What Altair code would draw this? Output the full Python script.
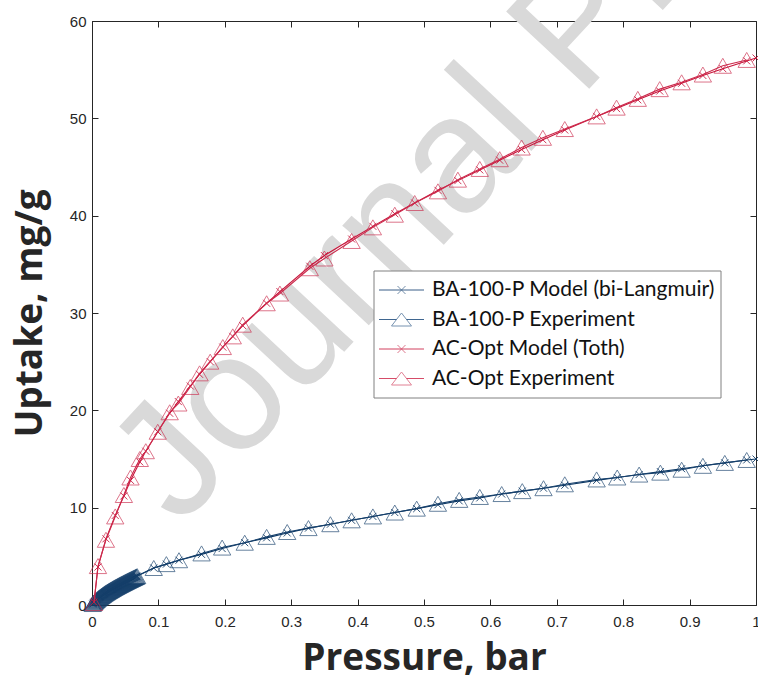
import altair as alt
import pandas as pd

# ---------------- data ----------------
series_names = [
    "BA-100-P Model (bi-Langmuir)",
    "BA-100-P Experiment",
    "AC-Opt Model (Toth)",
    "AC-Opt Experiment",
]
series_colors = ["#0b3763", "#153f6b", "#c8143a", "#cc2a4c"]
legend_colors = ["#3a5f88", "#3f6690", "#d2405e", "#d64c68"]
series_kind = ["model", "exp", "model", "exp"]

# dense low-pressure band of BA-100-P
ba_low_p = [0.001, 0.002, 0.003, 0.004, 0.005, 0.006, 0.007, 0.008, 0.009, 0.010,
            0.011, 0.012, 0.013, 0.014, 0.015, 0.016, 0.017, 0.018, 0.019, 0.020,
            0.021, 0.022, 0.023, 0.024, 0.025, 0.026, 0.027, 0.028, 0.029, 0.030,
            0.031, 0.032, 0.033, 0.034, 0.035, 0.036, 0.037, 0.038, 0.039, 0.040,
            0.041, 0.042, 0.043, 0.044, 0.045, 0.046, 0.047, 0.048, 0.049, 0.050,
            0.051, 0.052, 0.053, 0.054, 0.055, 0.056, 0.057, 0.058, 0.059, 0.060,
            0.061, 0.062, 0.063, 0.064, 0.065, 0.066, 0.067, 0.068]
ba_low_q = [0.10, 0.18, 0.26, 0.33, 0.40, 0.47, 0.53, 0.59, 0.65, 0.71,
            0.77, 0.82, 0.87, 0.92, 0.97, 1.02, 1.07, 1.12, 1.17, 1.22,
            1.26, 1.30, 1.35, 1.39, 1.43, 1.47, 1.51, 1.55, 1.59, 1.63,
            1.67, 1.71, 1.75, 1.79, 1.83, 1.86, 1.90, 1.94, 1.97, 2.01,
            2.05, 2.08, 2.12, 2.15, 2.19, 2.22, 2.26, 2.29, 2.33, 2.36,
            2.40, 2.43, 2.47, 2.50, 2.53, 2.57, 2.60, 2.63, 2.67, 2.70,
            2.73, 2.77, 2.80, 2.83, 2.87, 2.90, 2.93, 2.97]

ba_exp_p = ba_low_p + [
    0.093, 0.112, 0.131, 0.165, 0.196, 0.230, 0.263, 0.294, 0.326, 0.359,
    0.391, 0.423, 0.456, 0.489, 0.521, 0.553, 0.584, 0.617, 0.648, 0.680,
    0.712, 0.760, 0.791, 0.824, 0.856, 0.888, 0.920, 0.953, 0.986]
ba_exp_q = ba_low_q + [
    3.8, 4.2, 4.6, 5.3, 5.9, 6.4, 7.0, 7.5, 7.9, 8.3,
    8.7, 9.1, 9.5, 9.9, 10.4, 10.8, 11.1, 11.4, 11.7, 12.0,
    12.4, 12.9, 13.1, 13.4, 13.6, 13.9, 14.3, 14.6, 14.9]

ba_mod_p = ba_exp_p + [1.0]
ba_mod_q = ba_low_q + [
    3.8, 4.2, 4.6, 5.2, 5.8, 6.4, 6.9, 7.4, 7.9, 8.3,
    8.7, 9.1, 9.5, 9.9, 10.3, 10.7, 11.0, 11.4, 11.7, 12.0,
    12.3, 12.8, 13.1, 13.4, 13.7, 14.0, 14.3, 14.6, 14.9, 15.0]

ac_exp_p = [0.003, 0.009, 0.021, 0.035, 0.048, 0.058, 0.072, 0.081, 0.099, 0.117,
            0.130, 0.148, 0.162, 0.178, 0.197, 0.212, 0.227, 0.263, 0.283, 0.328,
            0.350, 0.391, 0.423, 0.456, 0.486, 0.521, 0.551, 0.584, 0.614, 0.647,
            0.679, 0.712, 0.760, 0.790, 0.822, 0.855, 0.888, 0.920, 0.950, 0.986]
ac_exp_q = [0.2, 4.0, 6.7, 9.1, 11.3, 13.1, 15.0, 15.8, 17.8, 19.8,
            20.7, 22.4, 23.8, 25.0, 26.5, 27.6, 28.8, 31.0, 32.0, 34.6,
            35.6, 37.4, 38.8, 40.1, 41.3, 42.5, 43.7, 44.8, 45.8, 47.0,
            48.0, 48.9, 50.2, 51.1, 52.0, 53.0, 53.7, 54.5, 55.4, 56.0]

ac_mod_p = ac_exp_p + [1.0]
ac_mod_q = [0.3, 3.9, 6.8, 9.2, 11.2, 12.8, 14.7, 15.8, 17.8, 19.7,
            20.9, 22.5, 23.7, 25.0, 26.5, 27.6, 28.7, 31.0, 32.2, 34.8,
            35.9, 37.6, 38.9, 40.2, 41.3, 42.6, 43.6, 44.7, 45.7, 46.8,
            47.8, 48.8, 50.2, 51.0, 51.9, 52.8, 53.6, 54.4, 55.1, 55.9, 56.2]

x_ticks = [0, 0.1, 0.2, 0.3, 0.4, 0.5, 0.6, 0.7, 0.8, 0.9, 1]
y_ticks = [0, 10, 20, 30, 40, 50, 60]

watermark_text = ["Journal Pre-proof"]
watermark_p = [0.132]
watermark_q = [7.9]

# ---------------- table ----------------
series_data = [(ba_mod_p, ba_mod_q), (ba_exp_p, ba_exp_q),
               (ac_mod_p, ac_mod_q), (ac_exp_p, ac_exp_q)]
rows = []
for name, kind, (ps, qs) in zip(series_names, series_kind, series_data):
    for p, q in zip(ps, qs):
        rows.append({"series": name, "kind": kind, "pressure": p, "uptake": q})
df = pd.DataFrame(rows)
wm = pd.DataFrame({"t": watermark_text, "pressure": watermark_p, "uptake": watermark_q})
one = pd.DataFrame({"k": [0]})

W, H = 664, 584
AX = "#262626"
xscale = alt.Scale(domain=[0, 1], nice=False, zero=False)
yscale = alt.Scale(domain=[0, 60], nice=False, zero=False)

x_path = "M-1,-1L1,1M-1,1L1,-1"
tri_leg_path = "M0,-0.65L-1,0.65L1,0.65Z"

base = alt.Chart(df)
xs = alt.X("pressure:Q", scale=xscale, axis=None)
ys = alt.Y("uptake:Q", scale=yscale, axis=None)

# watermark
wm_layer = alt.Chart(wm).mark_text(
    font="Liberation Sans", fontSize=165, angle=313, align="left",
    baseline="alphabetic", color="#d9d9d9"
).encode(x=xs, y=ys, text="t:N")

# main axes (labels + titles) carried by an invisible layer
x_main = alt.X("pressure:Q", scale=xscale, axis=alt.Axis(
    values=x_ticks, format="~g", title="Pressure, bar", orient="bottom",
    ticks=False, grid=False, domainColor=AX, labelColor=AX, labelFont="Liberation Sans",
    labelFontSize=15, labelPadding=9, titleFont="Open Sans", titleFontSize=37,
    titleFontWeight="bold", titleColor=AX, titleX=W / 2, titleY=64,
    titleBaseline="alphabetic", labelFlush=False))
y_main = alt.Y("uptake:Q", scale=yscale, axis=alt.Axis(
    values=y_ticks, title="Uptake, mg/g", orient="left",
    ticks=False, grid=False, domainColor=AX, labelColor=AX, labelFont="Liberation Sans",
    labelFontSize=15, labelPadding=6, titleFont="Open Sans", titleFontSize=37,
    titleFontWeight="bold", titleColor=AX, titleX=-51, titleY=H / 2,
    titleAngle=270, titleAlign="center", titleBaseline="alphabetic", labelFlush=False))
axes_layer = base.mark_point(opacity=0).encode(x=x_main, y=y_main)

# per-series lines and markers, in MATLAB plotting order
series_layers = []
for name, kind, col in zip(series_names, series_kind, series_colors):
    sub = base.transform_filter(alt.datum.series == name)
    series_layers.append(
        sub.mark_line(strokeWidth=1.1, color=col).encode(x=xs, y=ys, order="pressure:Q")
    )
    if kind == "model":
        series_layers.append(
            sub.mark_point(shape=x_path, size=49, filled=False, strokeWidth=1,
                           opacity=0.85, color=col).encode(x=xs, y=ys)
        )
    else:
        series_layers.append(
            sub.mark_point(shape="triangle-up", size=300, filled=False, strokeWidth=0.9,
                           opacity=0.72, color=col).encode(x=xs, y=ys)
        )

# legend box in the upper right middle of the plot (layout in plot pixels)
LEG_L, LEG_R, LEG_T, LEG_B = 282, 629, 250, 377
ROW0, ROW_STEP = 269, 29.5
SYM_L, SYM_C, SYM_R, GAP = 287, 309.5, 332, 5
LABEL_X = 340
o = alt.Chart(one)
legend_layers = [
    o.mark_rect(fill="white", stroke="#808080", strokeWidth=1).encode(
        x=alt.value(LEG_L), x2=alt.value(LEG_R), y=alt.value(LEG_T), y2=alt.value(LEG_B))
]
for i, (name, kind, col) in enumerate(zip(series_names, series_kind, legend_colors)):
    yy = ROW0 + i * ROW_STEP
    if kind == "model":
        legend_layers.append(o.mark_rule(color=col, strokeWidth=1).encode(
            x=alt.value(SYM_L), x2=alt.value(SYM_R), y=alt.value(yy)))
        legend_layers.append(o.mark_point(shape=x_path, size=64, filled=False,
                                          strokeWidth=1, color=col).encode(
            x=alt.value(SYM_C), y=alt.value(yy)))
    else:
        legend_layers.append(o.mark_rule(color=col, strokeWidth=1).encode(
            x=alt.value(SYM_L), x2=alt.value(SYM_C - GAP), y=alt.value(yy)))
        legend_layers.append(o.mark_rule(color=col, strokeWidth=1).encode(
            x=alt.value(SYM_C + GAP), x2=alt.value(SYM_R), y=alt.value(yy)))
        legend_layers.append(o.mark_point(shape=tri_leg_path, size=400, filled=False,
                                          strokeWidth=1, color=col).encode(
            x=alt.value(SYM_C), y=alt.value(yy)))
    legend_layers.append(o.mark_text(
        text=name, font="Lato", fontSize=21, color="#111111",
        align="left", baseline="middle").encode(x=alt.value(LABEL_X), y=alt.value(yy)))

tick_common = dict(labels=False, domain=False, grid=False, title=None,
                   ticks=True, tickSize=6, tickColor=AX, tickWidth=1)
ticks_a = base.mark_point(opacity=0).encode(
    x=alt.X("pressure:Q", scale=xscale, axis=alt.Axis(values=x_ticks, orient="top", offset=-H, **tick_common)),
    y=alt.Y("uptake:Q", scale=yscale, axis=alt.Axis(values=y_ticks, orient="right", offset=-W, **tick_common)),
)
ticks_b = base.mark_point(opacity=0).encode(
    x=alt.X("pressure:Q", scale=xscale, axis=alt.Axis(values=x_ticks, orient="bottom", offset=-H, **tick_common)),
    y=alt.Y("uptake:Q", scale=yscale, axis=alt.Axis(values=y_ticks, orient="left", offset=-W, **tick_common)),
)

chart = alt.layer(
    wm_layer, axes_layer, *series_layers, *legend_layers, ticks_a, ticks_b
).resolve_axis(
    x="independent", y="independent"
).properties(
    width=W, height=H,
    autosize=alt.AutoSizeParams(type="none"),
    padding={"left": 92, "top": 21, "right": 2, "bottom": 75},
    background="white",
).configure_view(stroke=AX, strokeWidth=1)

chart.save("out.html", embed_options={"renderer": "svg", "actions": False})
